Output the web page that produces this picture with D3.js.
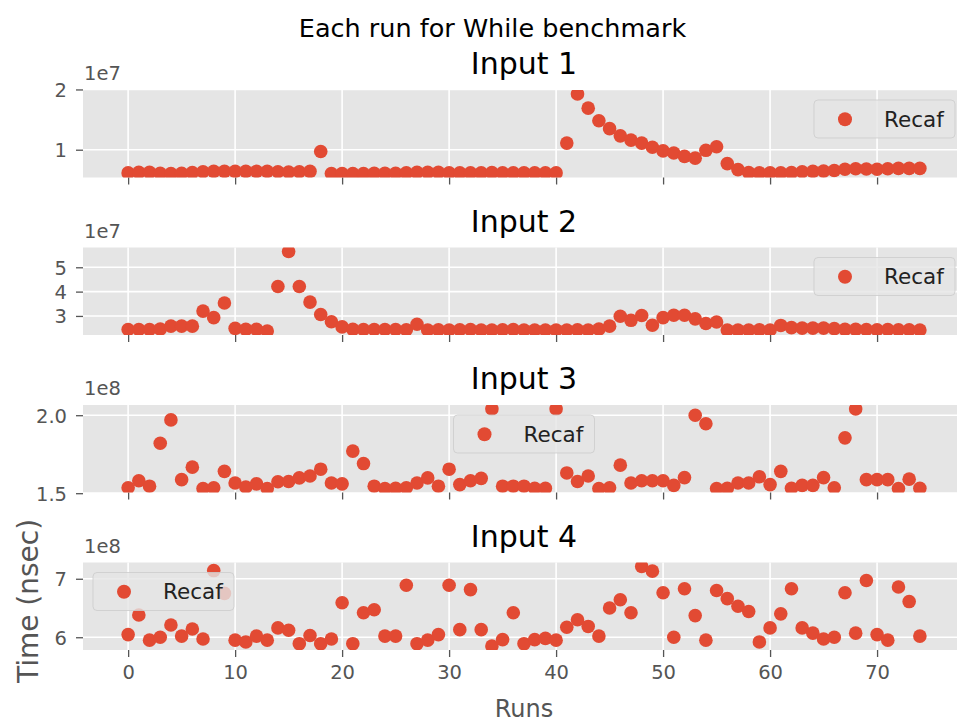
<!DOCTYPE html>
<html>
<head>
<meta charset="utf-8">
<script src="https://cdn.jsdelivr.net/npm/d3@7"></script>
<style>
  body { margin: 0; background: #fff; }
  text { font-family: "DejaVu Sans", sans-serif; }
</style>
</head>
<body>
<div id="chart"></div>
<script>
// run index on x, one array per input (values in units of the offset exponent)
const runs = d3.range(75);

const input1 = [0.615, 0.625, 0.625, 0.61, 0.605, 0.61, 0.62, 0.635, 0.64, 0.64,
  0.64, 0.64, 0.64, 0.64, 0.635, 0.63, 0.635, 0.64, 0.97, 0.605,
  0.605, 0.605, 0.605, 0.61, 0.61, 0.61, 0.615, 0.625, 0.625, 0.625,
  0.615, 0.615, 0.615, 0.615, 0.62, 0.615, 0.615, 0.615, 0.615, 0.615,
  0.615, 1.11, 1.925, 1.69, 1.48, 1.35, 1.23, 1.16, 1.11, 1.04,
  0.98, 0.945, 0.89, 0.86, 0.99, 1.05, 0.77, 0.67, 0.62, 0.615,
  0.615, 0.615, 0.62, 0.635, 0.64, 0.645, 0.655, 0.675, 0.685, 0.68,
  0.675, 0.685, 0.69, 0.69, 0.69];
const input2 = [2.44, 2.44, 2.44, 2.46, 2.58, 2.58, 2.58, 3.2, 2.93, 3.53,
  2.49, 2.45, 2.45, 2.38, 4.21, 5.65, 4.21, 3.57, 3.06, 2.76,
  2.55, 2.45, 2.44, 2.44, 2.44, 2.44, 2.43, 2.66, 2.42, 2.43,
  2.42, 2.43, 2.44, 2.42, 2.42, 2.43, 2.44, 2.42, 2.42, 2.42,
  2.42, 2.42, 2.43, 2.42, 2.46, 2.58, 2.99, 2.82, 3.02, 2.62,
  2.93, 3.03, 3.03, 2.88, 2.69, 2.75, 2.42, 2.42, 2.42, 2.43,
  2.42, 2.61, 2.52, 2.5, 2.5, 2.5, 2.48, 2.45, 2.45, 2.44,
  2.43, 2.44, 2.43, 2.43, 2.42];
const input3 = [1.535, 1.58, 1.545, 1.82, 1.97, 1.587, 1.667, 1.53, 1.535, 1.64,
  1.565, 1.54, 1.56, 1.53, 1.573, 1.575, 1.598, 1.61, 1.654, 1.565,
  1.56, 1.77, 1.69, 1.545, 1.53, 1.532, 1.535, 1.565, 1.598, 1.545,
  1.654, 1.555, 1.58, 1.595, 2.04, 1.545, 1.545, 1.545, 1.532, 1.532,
  2.04, 1.63, 1.575, 1.61, 1.53, 1.535, 1.68, 1.565, 1.58, 1.58,
  1.58, 1.55, 1.6, 2.0, 1.945, 1.53, 1.532, 1.565, 1.565, 1.605,
  1.555, 1.64, 1.532, 1.55, 1.55, 1.6, 1.535, 1.855, 2.04, 1.587,
  1.587, 1.587, 1.53, 1.59, 1.532];
const input4 = [6.045, 6.38, 5.95, 6.0, 6.21, 6.02, 6.14, 5.97, 7.14, 6.75,
  5.95, 5.92, 6.02, 5.95, 6.16, 6.12, 5.89, 6.03, 5.89, 5.97,
  6.59, 5.89, 6.42, 6.47, 6.02, 6.02, 6.89, 5.89, 5.95, 6.045,
  6.89, 6.13, 6.815, 6.13, 5.85, 5.96, 6.42, 5.89, 5.96, 5.98,
  5.95, 6.17, 6.3, 6.185, 6.02, 6.5, 6.64, 6.42, 7.21, 7.13,
  6.76, 6.0, 6.83, 6.37, 5.95, 6.8, 6.66, 6.53, 6.44, 5.92,
  6.16, 6.4, 6.83, 6.16, 6.07, 5.97, 6.0, 6.76, 6.07, 6.97,
  6.045, 5.95, 6.86, 6.61, 6.02];

const titles = ["Input 1", "Input 2", "Input 3", "Input 4"];
const offsets = ["1e7", "1e7", "1e8", "1e8"];
const yTicks = [[1, 2], [3, 4, 5], [1.5, 2.0], [6, 7]];
const yFormats = ["d", "d", ".1f", "d"];
const legendLocs = ["upper right", "upper right", "upper center", "upper left"];
const xTicks = [0, 10, 20, 30, 40, 50, 60, 70];
const series = [input1, input2, input3, input4];

const theme = {
  bg: "#E5E5E5",
  dot: "#E24A33",
  tick: "#555555",
};

const width = 957;
const height = 723;
const margin = { left: 83, right: 965 };
const panelTops = [90, 247.5, 405, 562.5];
const panelH = 87.5;

const svg = d3.select("#chart")
  .append("svg")
  .attr("width", width)
  .attr("height", height);

// matplotlib-ish autoscale padding
const padded = (ext, f) => {
  const d = (ext[1] - ext[0]) * f;
  return [ext[0] - d, ext[1] + d];
};

const xScale = d3.scaleLinear()
  .domain(padded(d3.extent(runs), 0.057))
  .range([margin.left, margin.right]);

svg.append("text")
  .attr("x", 492.5)
  .attr("y", 36.5)
  .attr("text-anchor", "middle")
  .style("font-size", "25.5px")
  .attr("fill", "#000")
  .text("Each run for While benchmark");

series.forEach((values, i) => {
  const top = panelTops[i];
  const bottom = top + panelH;
  const yScale = d3.scaleLinear()
    .domain(padded(d3.extent(values), 0.05))
    .range([bottom, top]);

  const g = svg.append("g");

  g.append("rect")
    .attr("x", margin.left)
    .attr("y", top)
    .attr("width", margin.right - margin.left)
    .attr("height", panelH)
    .attr("fill", theme.bg);

  // grid
  const grid = g.append("g")
    .attr("stroke", "#fff")
    .attr("stroke-width", 1.6);
  grid.selectAll(".vx").data(xTicks).join("line")
    .attr("x1", (d) => xScale(d)).attr("x2", (d) => xScale(d))
    .attr("y1", top).attr("y2", bottom);
  grid.selectAll(".hy").data(yTicks[i]).join("line")
    .attr("x1", margin.left).attr("x2", margin.right)
    .attr("y1", (d) => yScale(d)).attr("y2", (d) => yScale(d));

  // x axis ticks (labels only on the last one)
  const xAxis = g.append("g")
    .attr("transform", `translate(0, ${bottom})`)
    .call(d3.axisBottom(xScale).tickValues(xTicks).tickSizeOuter(0).tickSize(7).tickPadding(8)
      .tickFormat(i === 3 ? d3.format("d") : ""));
  xAxis.select(".domain").remove();
  xAxis.selectAll("line").attr("stroke", theme.tick).attr("stroke-width", 1.3);
  xAxis.selectAll("text")
    .attr("fill", theme.tick)
    .style("font-size", "19.5px")
    .style("font-family", "DejaVu Sans");

  const yAxis = g.append("g")
    .attr("transform", `translate(${margin.left}, 0)`)
    .call(d3.axisLeft(yScale).tickValues(yTicks[i]).tickSizeOuter(0).tickSize(7).tickPadding(9)
      .tickFormat(d3.format(yFormats[i])));
  yAxis.select(".domain").remove();
  yAxis.selectAll("line").attr("stroke", theme.tick).attr("stroke-width", 1.3);
  yAxis.selectAll("text")
    .attr("fill", theme.tick)
    .attr("dy", "0.36em")
    .style("font-size", "19.5px")
    .style("font-family", "DejaVu Sans");

  // offset label
  g.append("text")
    .attr("x", margin.left + 1)
    .attr("y", top - 10)
    .attr("fill", theme.tick)
    .style("font-size", "19.5px")
    .text(offsets[i]);

  g.append("text")
    .attr("x", (margin.left + margin.right) / 2)
    .attr("y", top - 16)
    .attr("text-anchor", "middle")
    .attr("fill", "#000")
    .style("font-size", "30px")
    .text(titles[i]);

  const clipId = `clip${i}`;
  svg.append("clipPath").attr("id", clipId)
    .append("rect")
    .attr("x", margin.left).attr("y", top)
    .attr("width", margin.right - margin.left).attr("height", panelH);

  g.append("g")
    .attr("clip-path", `url(#${clipId})`)
    .selectAll("circle")
    .data(values)
    .join("circle")
    .attr("cx", (d, j) => xScale(runs[j]))
    .attr("cy", (d) => yScale(d))
    .attr("r", 6.8)
    .attr("fill", theme.dot);

  // legend
  const boxW = 141;
  const boxH = 38;
  let bx;
  if (legendLocs[i] === "upper right") bx = margin.right - 10 - boxW;
  else if (legendLocs[i] === "upper center") bx = (margin.left + margin.right) / 2 - boxW / 2;
  else bx = margin.left + 10;
  const by = top + 10;
  const legend = g.append("g").attr("transform", `translate(${bx}, ${by})`);
  legend.append("rect")
    .attr("width", boxW)
    .attr("height", boxH)
    .attr("rx", 4)
    .attr("fill", theme.bg)
    .attr("fill-opacity", 0.8)
    .attr("stroke", "#CCCCCC")
    .attr("stroke-opacity", 0.8)
    .attr("stroke-width", 1);
  legend.append("circle")
    .attr("cx", 31)
    .attr("cy", 19.3)
    .attr("r", 7)
    .attr("fill", theme.dot);
  legend.append("text")
    .attr("x", 70)
    .attr("y", 26.5)
    .attr("fill", "#222")
    .style("font-size", "21.5px")
    .text("Recaf");
});

svg.append("text")
  .attr("x", (margin.left + margin.right) / 2)
  .attr("y", 716.5)
  .attr("text-anchor", "middle")
  .attr("fill", theme.tick)
  .style("font-size", "24px")
  .text("Runs");

svg.append("text")
  .attr("transform", `translate(38, 601) rotate(-90)`)
  .attr("text-anchor", "middle")
  .attr("fill", theme.tick)
  .style("font-size", "28px")
  .text("Time (nsec)");
</script>
</body>
</html>
